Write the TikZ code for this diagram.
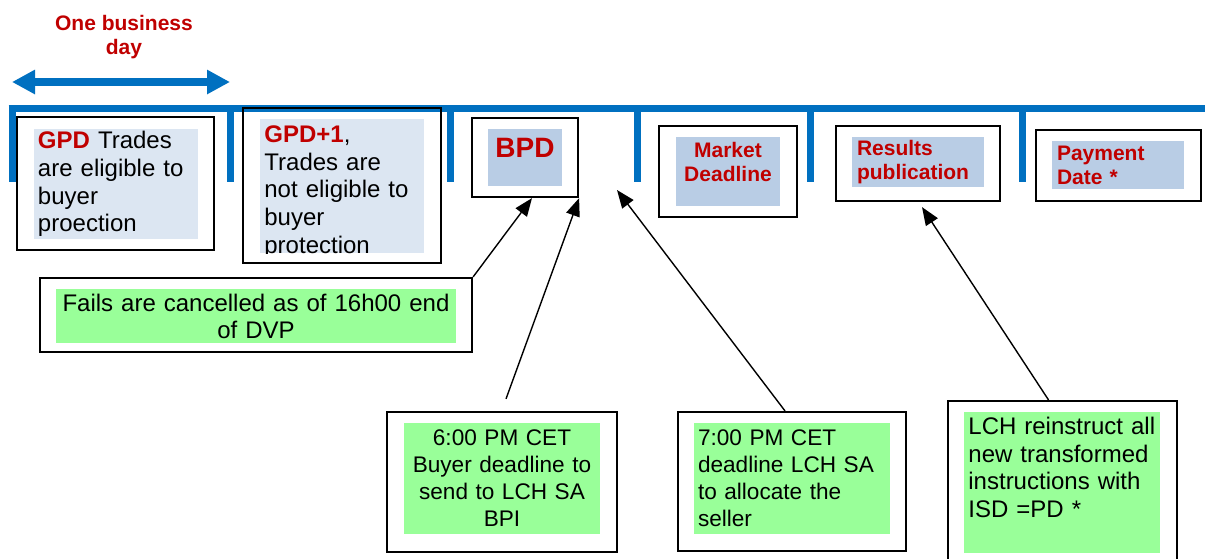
\documentclass[tikz,border=0pt]{standalone}
\usepackage{fontspec}
\setmainfont{Liberation Sans}
\usetikzlibrary{arrows.meta}
\definecolor{lineblue}{RGB}{0,112,192}
\definecolor{datered}{RGB}{192,0,0}
\definecolor{paleblue}{RGB}{220,230,242}
\definecolor{softblue}{RGB}{185,205,229}
\definecolor{mintgreen}{RGB}{153,255,153}
\begin{document}
\begin{tikzpicture}[x=0.5pt, y=-0.5pt,
    frame/.style={draw, line width=1.1pt, inner sep=0pt},
    pane/.style={inner xsep=2pt, inner ysep=0pt, font=\fontsize{12}{13.8}\selectfont},
    smallpane/.style={pane, font=\fontsize{11.3}{13.5}\selectfont},
    datetext/.style={font=\fontsize{10.5}{12}\selectfont\bfseries, text=datered},
    pointer/.style={-{Triangle[length=9pt, width=7pt]}, line width=0.7pt}]
    \useasboundingbox (0,0) rectangle (1205,558);
    \clip (0,0) rectangle (1205,558);

    % timeline with day ticks
    \draw[lineblue, line width=3.5pt] (8.5,108.5) -- (1205,108.5);
    \foreach \x in {12,230,450,637,810,1022}
    \draw[lineblue, line width=3.5pt] (\x,108.5) -- (\x,182);

    \coordinate (dayL) at (12,82);
    \coordinate (dayR) at (230,82);
    \draw[lineblue, line width=4pt, {Triangle[length=11.5pt, width=11.5pt]}-{Triangle[length=11.5pt, width=11.5pt]}] (dayL) -- (dayR);
    \node[datetext, align=center] (oneday) at (124,37) {One business\\day};

    % day boxes
    \node[frame, minimum width=98.5pt, minimum height=66.5pt] (gpd) at (115.5,183.5) {};
    \node[pane, fill=paleblue, text width=78pt, minimum width=82pt, minimum height=55pt, align=left] (gpdpane) at (116,184)
        {\textcolor{datered}{\bfseries GPD} Trades\\are eligible to\\buyer\\proection};

    \node[frame, minimum width=99pt, minimum height=77.5pt] (gpdnext) at (342,185.5) {};
    \node[fill=paleblue, inner sep=0pt, minimum width=82pt, minimum height=67pt] (gpdnextpane) at (342,186) {};
    \begin{scope}
        \clip (gpdnextpane.north west) rectangle (gpdnextpane.south east);
        \node[pane, inner xsep=0pt, text width=78pt, align=left, anchor=north west] (gpdnexttext) at (264,125.5)
            {\textcolor{datered}{\bfseries GPD+1},\\Trades are\\not eligible to\\buyer\\protection};
    \end{scope}

    \node[frame, minimum width=53pt, minimum height=39.5pt] (bpd) at (525,157.5) {};
    \node[fill=softblue, inner sep=0pt, minimum width=37pt, minimum height=28.5pt] (bpdpane) at (525,157.5) {};
    \node[font=\fontsize{14}{16}\selectfont\bfseries, text=datered, inner sep=0pt, anchor=base] (bpdtext) at (525,157) {BPD};

    \node[frame, minimum width=69pt, minimum height=45.5pt] (market) at (728,171.5) {};
    \node[fill=softblue, inner sep=0pt, minimum width=52pt, minimum height=34.5pt] (marketpane) at (728,171.5) {};
    \node[datetext, inner sep=0pt, align=center, anchor=north] (markettext) at (728,142) {Market\\Deadline};

    \node[frame, minimum width=82pt, minimum height=37.5pt] (results) at (918,163.5) {};
    \node[datetext, fill=softblue, inner xsep=2.5pt, inner ysep=0pt, text width=61pt, minimum width=66pt, minimum height=25pt, align=left] (resultspane) at (918,162)
        {Results\\publication};

    \node[frame, minimum width=82.5pt, minimum height=35.5pt] (payment) at (1118.5,165.5) {};
    \node[datetext, fill=softblue, inner xsep=2.5pt, inner ysep=0pt, text width=61pt, minimum width=66pt, minimum height=24pt, align=left] (paymentpane) at (1118,165)
        {Payment\\Date *};

    % notes below the timeline
    \node[frame, minimum width=216pt, minimum height=37pt] (fails) at (256,315) {};
    \node[pane, font=\fontsize{12}{13.5}\selectfont, fill=mintgreen, inner xsep=1pt, text width=198pt, minimum width=200pt, minimum height=27pt, align=center] (failspane) at (256,316)
        {Fails are cancelled as of 16h00 end\\of DVP};

    \node[frame, minimum width=115pt, minimum height=70pt] (buyer) at (502,482) {};
    \node[smallpane, fill=mintgreen, text width=94pt, minimum width=98pt, minimum height=55.5pt, align=center] (buyerpane) at (502,478.5)
        {6:00 PM CET\\Buyer deadline to\\send to LCH SA\\BPI};

    \node[frame, minimum width=114pt, minimum height=69.5pt] (seller) at (792,481.5) {};
    \node[smallpane, fill=mintgreen, text width=94pt, minimum width=98pt, minimum height=55.5pt, align=left] (sellerpane) at (792,478.5)
        {7:00 PM CET\\deadline LCH SA\\to allocate the\\seller};

    \node[frame, minimum width=114.5pt, minimum height=87pt] (lch) at (1062.5,488) {};
    \node[fill=mintgreen, inner sep=0pt, minimum width=98pt, minimum height=70.5pt] (lchpane) at (1062,482.5) {};
    \node[pane, inner xsep=0pt, text width=94pt, align=left, anchor=north west] (lchtext) at (968,417)
        {LCH reinstruct all\\new transformed\\instructions with\\ISD =PD *};

    % pointers
    \coordinate (gap) at (617,190);
    \draw[pointer] (fails.north east) -- ([xshift=3.5pt]bpd.south);
    \draw[pointer] ([shift={(2pt,6pt)}]buyer.north) -- (bpd.south east);
    \draw[pointer] ([xshift=-3.5pt]seller.north) -- (gap);
    \draw[pointer] ([xshift=-7pt]lch.north) -- ([shift={(2pt,-2.5pt)}]results.south);
\end{tikzpicture}
\end{document}
